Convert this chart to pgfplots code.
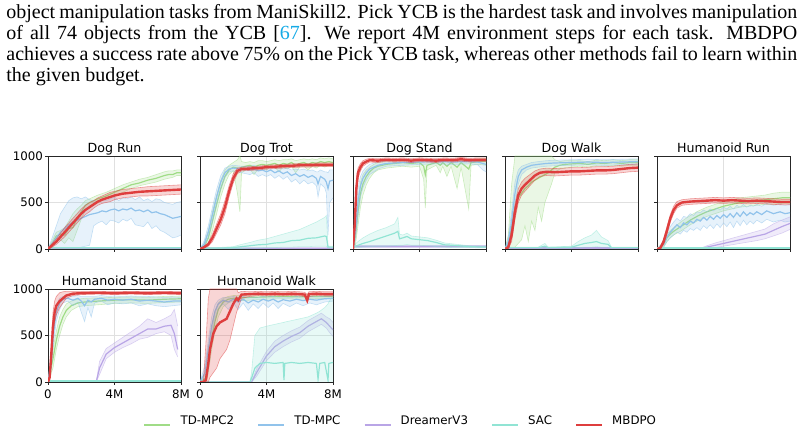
\documentclass[border=0pt]{standalone}
\usepackage{pgfplots}
\pgfplotsset{compat=1.18}
\usepackage{pgfplotstable}
\usepackage{fontspec}
\setmainfont{Liberation Serif}
\newfontfamily\djv{DejaVu Sans}

\definecolor{tdmpctwo}{RGB}{160,220,135}
\definecolor{tdmpc}{RGB}{145,195,235}
\definecolor{dreamer}{RGB}{185,165,230}
\definecolor{sac}{RGB}{145,228,212}
\definecolor{mbdpo}{RGB}{222,62,62}
\definecolor{cite}{RGB}{20,170,230}

% columns: env steps (M), mean, lower, upper
% ---------------- Dog Run ----------------
\pgfplotstableread{
x m l u
0 0 0 0
0.25 60 30 90
0.5 140 90 180
0.75 160 100 200
1.0 150 60 230
1.25 220 120 300
1.5 230 80 380
1.75 330 200 430
2.0 400 320 470
2.25 470 420 520
2.5 500 460 540
2.75 520 480 560
3.0 540 500 580
3.5 570 540 610
4.0 610 570 650
4.5 650 610 690
5.0 690 650 720
5.5 710 680 750
6.0 740 700 770
6.5 760 720 800
7.0 790 750 830
7.25 800 760 840
7.5 800 770 840
7.75 820 790 850
8.0 820 790 850
}\DRa
\pgfplotstableread{
x m l u
0 0 0 0
0.25 60 20 120
0.5 120 20 250
0.75 180 10 380
1.0 220 10 450
1.25 260 10 520
1.5 290 10 550
1.75 310 10 560
2.0 330 20 540
2.25 350 30 560
2.5 370 40 530
2.75 380 250 520
3.0 390 280 510
3.25 410 300 530
3.5 400 260 520
3.75 420 310 540
4.0 430 300 560
4.25 410 280 520
4.5 430 320 550
4.75 420 300 540
5.0 440 330 560
5.25 410 260 530
5.5 420 250 560
5.75 400 240 520
6.0 420 290 540
6.25 390 220 510
6.5 400 250 540
6.75 380 200 530
7.0 370 180 500
7.25 350 150 490
7.5 330 120 480
7.75 340 130 500
8.0 350 150 510
}\DRb
\pgfplotstableread{
x m l u
0 5 0 10
8 5 0 10
}\DRc
\pgfplotstableread{
x m l u
0 15 10 20
8 15 10 20
}\DRd
\pgfplotstableread{
x m l u
0 0 0 0
0.25 40 20 60
0.5 80 50 110
0.75 130 90 170
1.0 180 130 230
1.25 230 180 280
1.5 280 230 330
1.75 330 280 380
2.0 380 330 430
2.25 420 370 470
2.5 450 400 500
2.75 480 440 520
3.0 510 470 550
3.25 530 490 570
3.5 545 500 590
3.75 560 510 610
4.0 575 530 620
4.5 595 550 640
5.0 605 560 650
5.5 615 570 660
6.0 620 570 670
6.5 625 575 675
7.0 630 580 680
7.5 635 585 685
8.0 640 590 690
}\DRe
% ---------------- Dog Trot ----------------
\pgfplotstableread{
x m l u
0 0 0 0
0.25 30 10 60
0.5 120 60 200
0.75 300 200 400
1.0 480 380 580
1.25 650 560 740
1.5 780 700 850
1.75 850 800 900
2.0 880 840 930
2.25 870 600 960
2.4 860 400 1000
2.5 880 820 940
2.75 890 850 930
3.0 900 860 940
3.25 880 800 930
3.5 900 860 950
3.75 910 870 950
4.0 900 850 940
4.25 910 880 950
4.5 920 880 960
4.75 900 830 950
5.0 920 880 960
5.25 910 860 960
5.5 930 890 970
5.75 900 820 950
6.0 920 880 960
6.25 930 890 970
6.5 910 850 960
6.75 930 890 970
7.0 920 870 960
7.25 940 900 980
7.5 930 880 970
7.75 940 900 980
8.0 930 890 970
}\DTa
\pgfplotstableread{
x m l u
0 0 0 0
0.25 50 20 90
0.5 180 120 250
0.75 370 290 450
1.0 560 480 640
1.25 720 650 790
1.5 820 770 870
1.75 860 830 890
2.0 870 840 900
2.5 860 820 890
3.0 850 800 890
3.25 860 820 900
3.5 840 780 880
3.75 850 800 890
4.0 830 780 870
4.25 850 800 890
4.5 820 760 870
4.75 840 790 880
5.0 810 750 860
5.25 830 780 870
5.5 790 720 850
5.75 810 750 860
6.0 780 700 850
6.25 800 740 860
6.5 770 700 840
6.75 790 720 850
7.0 760 680 830
7.1 700 560 830
7.25 780 700 850
7.5 750 660 830
7.6 720 600 830
7.7 650 150 820
7.8 730 500 850
8.0 740 550 850
}\DTb
\pgfplotstableread{
x m l u
0 8 0 15
8 8 0 15
}\DTc
\pgfplotstableread{
x m l u
0 10 5 15
1.0 10 5 15
2.0 15 5 25
2.5 25 5 50
3.0 35 10 70
3.5 45 10 95
4.0 50 15 110
4.5 65 15 135
5.0 70 20 160
5.5 90 20 185
6.0 95 25 210
6.5 115 25 250
7.0 120 30 290
7.5 140 30 340
7.6 135 30 360
7.7 20 10 30
8.0 20 10 30
}\DTd
\pgfplotstableread{
x m l u
0 0 0 0
0.25 20 10 30
0.5 50 30 70
0.75 120 80 160
1.0 220 170 270
1.25 320 260 380
1.5 450 380 520
1.75 620 560 680
2.0 760 710 810
2.25 840 810 870
2.5 860 840 880
3.0 865 845 885
3.5 870 850 890
4.0 880 860 900
4.5 885 865 905
5.0 890 870 910
5.5 895 875 915
6.0 900 880 920
6.5 900 880 920
7.0 905 885 925
7.5 905 885 925
8.0 905 885 925
}\DTe
% ---------------- Dog Stand ----------------
\pgfplotstableread{
x m l u
0 0 0 0
0.15 150 50 250
0.3 400 250 550
0.45 600 450 720
0.6 700 580 800
0.8 780 690 850
1.0 830 760 880
1.25 870 820 910
1.5 890 850 930
2.0 910 870 950
2.5 920 880 960
3.0 930 890 960
3.5 920 880 960
4.0 930 890 960
4.25 890 750 960
4.35 800 440 960
4.45 900 850 960
5.0 930 900 960
5.25 900 820 960
5.4 930 890 960
5.65 890 780 960
5.9 930 890 960
6.26 880 650 960
6.5 930 880 960
6.96 860 430 960
7.1 930 900 960
7.6 940 910 970
8.0 940 900 970
}\DSa
\pgfplotstableread{
x m l u
0 0 0 0
0.15 200 100 300
0.3 500 350 650
0.45 680 560 780
0.6 760 660 840
0.8 820 740 880
1.0 860 800 910
1.5 900 860 940
2.0 920 890 950
3.0 930 900 960
4.0 935 910 960
5.0 940 915 965
6.0 935 910 960
7.0 940 915 965
7.5 935 905 965
7.8 920 850 960
8.0 910 830 960
}\DSb
\pgfplotstableread{
x m l u
0 30 20 40
8 30 20 40
}\DSc
\pgfplotstableread{
x m l u
0 20 10 30
0.3 40 15 80
0.6 60 20 120
1.0 80 25 160
1.5 110 30 200
2.0 140 30 230
2.5 170 35 270
2.7 190 40 340
2.8 110 40 160
3.0 120 40 150
3.25 135 50 170
3.5 110 40 140
4.0 100 40 130
4.5 90 35 120
5.0 70 25 95
5.5 45 20 65
6.0 40 15 55
7.0 25 15 35
8.0 20 12 30
}\DSd
\pgfplotstableread{
x m l u
0 0 0 0
0.1 250 150 350
0.2 650 550 750
0.3 820 760 870
0.45 880 840 920
0.6 920 890 950
0.8 940 915 965
1.0 955 935 975
1.5 950 930 970
2.0 960 940 980
2.5 955 935 975
3.0 960 940 980
3.5 950 930 970
4.0 960 940 980
4.5 955 935 975
5.0 950 930 970
5.5 960 940 980
6.0 955 935 975
6.5 965 945 985
7.0 955 935 975
7.5 960 940 980
8.0 960 940 980
}\DSe
% ---------------- Dog Walk ----------------
\pgfplotstableread{
x m l u
0 0 0 0
0.2 50 0 150
0.4 250 0 700
0.6 450 20 1000
0.8 550 60 1000
1.0 600 100 1000
1.2 650 250 1000
1.4 680 80 1000
1.6 720 300 1000
1.8 740 200 1000
2.0 760 450 1000
2.2 780 300 1000
2.4 800 500 1000
2.6 820 600 1000
2.8 850 700 1000
3.0 880 820 960
3.3 900 860 940
3.6 910 870 950
4.0 915 880 950
4.5 920 890 950
5.0 910 880 940
5.5 925 895 955
6.0 920 890 950
6.5 930 900 960
7.0 920 890 950
7.5 930 900 960
8.0 930 900 960
}\DWa
\pgfplotstableread{
x m l u
0 0 0 0
0.2 80 30 130
0.4 300 200 400
0.6 600 480 720
0.8 780 700 850
1.0 850 800 890
1.3 880 850 910
1.6 900 870 930
2.0 910 880 940
2.5 920 890 950
3.0 925 895 955
4.0 930 900 960
5.0 935 905 965
6.0 930 900 960
7.0 935 905 965
8.0 940 910 970
}\DWb
\pgfplotstableread{
x m l u
0 10 5 15
8 10 5 15
}\DWc
\pgfplotstableread{
x m l u
0 15 10 20
2.0 15 10 20
2.4 30 10 60
2.6 15 10 20
4.0 20 10 30
4.4 40 15 80
4.8 60 20 120
5.2 70 20 150
5.5 80 25 200
5.8 60 20 130
6.2 50 20 90
6.4 15 10 20
8.0 15 10 20
}\DWd
\pgfplotstableread{
x m l u
0 0 0 0
0.2 20 5 40
0.4 150 80 220
0.6 400 320 480
0.8 580 500 650
1.0 650 580 720
1.2 690 620 760
1.5 740 680 800
1.8 790 740 840
2.1 820 780 860
2.5 830 790 870
3.0 825 785 865
3.5 830 790 870
4.0 835 795 875
4.5 835 795 875
5.0 840 800 880
5.5 845 805 885
6.0 845 805 885
6.5 850 810 890
7.0 860 820 900
7.5 870 830 910
8.0 875 835 915
}\DWe
% ---------------- Humanoid Run ----------------
\pgfplotstableread{
x m l u
0 0 0 0
0.4 50 20 80
0.6 120 80 160
0.8 160 120 200
1.0 190 150 230
1.5 250 200 300
2.0 310 260 360
2.5 360 310 410
3.0 400 350 450
3.5 430 380 480
4.0 460 410 510
4.5 480 430 530
5.0 500 450 550
5.5 510 460 560
6.0 520 470 570
6.5 530 480 580
7.0 540 480 600
7.5 550 490 610
8.0 550 490 610
}\HRa
\pgfplotstableread{
x m l u
0 0 0 0
0.4 50 20 80
0.6 130 80 180
0.8 180 120 240
1.0 220 150 290
1.2 260 180 330
1.4 230 160 300
1.6 280 200 350
1.8 260 180 340
2.0 300 220 380
2.2 280 200 360
2.4 320 230 400
2.6 300 200 390
2.8 340 250 420
3.0 310 220 400
3.2 350 260 430
3.4 320 220 410
3.6 360 270 440
3.8 330 230 420
4.0 370 280 450
4.2 340 240 430
4.4 380 290 460
4.6 340 230 430
4.8 390 300 470
5.0 350 250 450
5.2 400 310 480
5.4 360 260 450
5.6 390 300 470
5.8 370 270 460
6.0 400 310 480
6.3 370 280 460
6.6 410 320 490
7.0 380 290 470
7.4 400 310 480
7.7 380 290 470
8.0 390 300 480
}\HRb
\pgfplotstableread{
x m l u
0 0 0 0
2.5 0 0 0
3.0 20 5 35
3.5 40 15 65
4.0 60 30 90
4.5 80 45 115
5.0 100 60 140
5.5 120 75 165
6.0 140 90 190
6.5 160 110 215
7.0 200 140 270
7.5 240 170 310
8.0 275 210 345
}\HRc
\pgfplotstableread{
x m l u
0 10 5 15
8 10 5 15
}\HRd
\pgfplotstableread{
x m l u
0 0 0 0
0.2 10 0 20
0.4 80 50 110
0.6 200 160 240
0.8 330 290 370
1.0 420 380 460
1.2 470 440 510
1.5 500 470 530
2.0 510 480 540
2.5 515 485 545
3.0 520 490 550
3.5 525 495 555
4.0 520 490 550
4.5 525 495 555
5.0 520 490 550
5.5 515 485 545
6.0 520 490 550
6.5 515 485 545
7.0 510 480 540
7.5 505 475 535
8.0 505 475 535
}\HRe
% ---------------- Humanoid Stand ----------------
\pgfplotstableread{
x m l u
0 0 0 0
0.3 250 150 350
0.5 450 350 550
0.7 600 500 700
0.9 700 620 780
1.1 770 700 840
1.4 820 770 870
1.8 850 810 890
2.2 860 820 900
3.0 870 830 905
4.0 880 845 910
5.0 885 850 915
6.0 880 845 910
7.0 890 855 920
8.0 895 860 925
}\HSa
\pgfplotstableread{
x m l u
0 0 0 0
0.2 250 150 350
0.35 550 450 650
0.5 750 650 830
0.7 850 780 900
0.9 890 850 920
1.2 900 870 930
1.5 880 820 920
1.8 900 860 930
2.0 870 750 920
2.2 820 650 920
2.4 880 800 920
2.6 860 700 920
2.8 890 850 920
3.2 900 870 930
3.6 880 830 920
4.0 890 850 925
4.5 880 840 920
5.0 890 850 925
5.5 870 820 920
6.0 880 840 920
6.5 870 820 915
7.0 860 810 910
7.5 870 820 915
8.0 870 830 910
}\HSb
\pgfplotstableread{
x m l u
0 0 0 0
2.9 0 0 0
3.1 150 80 220
3.5 300 250 360
4.0 370 320 420
4.5 420 370 480
5.0 470 410 540
5.5 520 460 600
6.0 570 480 680
6.5 570 520 640
7.0 600 540 680
7.4 610 500 720
7.6 520 350 780
7.8 350 270 600
}\HSc
\pgfplotstableread{
x m l u
0 10 5 15
8 10 5 15
}\HSd
\pgfplotstableread{
x m l u
0 0 0 0
0.1 50 20 80
0.2 300 200 400
0.3 600 500 750
0.4 750 650 870
0.5 820 720 920
0.7 870 800 960
0.9 900 850 970
1.1 930 900 975
1.5 950 930 975
2.0 955 940 975
3.0 960 945 975
4.0 955 940 970
5.0 960 945 975
6.0 955 940 970
7.0 960 945 975
8.0 955 940 970
}\HSe
% ---------------- Humanoid Walk ----------------
\pgfplotstableread{
x m l u
0 0 0 0
0.4 50 10 100
0.5 200 100 300
0.7 450 350 550
0.9 650 550 740
1.1 780 700 850
1.4 860 810 900
1.7 890 850 920
2.0 900 870 930
3.0 910 880 935
4.0 915 890 940
5.0 920 895 945
6.0 915 890 940
7.0 920 895 945
8.0 920 895 945
}\HWa
\pgfplotstableread{
x m l u
0 0 0 0
0.3 100 40 180
0.5 350 250 450
0.7 600 500 700
0.9 760 680 830
1.1 840 790 880
1.4 880 840 910
1.7 860 780 910
2.0 890 850 920
2.3 860 780 910
2.6 890 850 920
2.9 850 770 910
3.2 880 840 915
3.5 860 790 910
3.8 890 850 920
4.1 870 800 915
4.4 890 850 920
4.7 860 790 910
5.0 885 845 915
5.4 870 810 910
5.8 890 850 920
6.2 875 820 915
6.6 890 850 920
7.0 880 830 915
7.5 895 860 925
8.0 900 870 925
}\HWb
\pgfplotstableread{
x m l u
0 0 0 0
3.1 0 0 0
3.4 100 60 140
4.0 280 230 330
4.5 380 320 440
5.0 440 380 500
5.5 490 430 550
6.0 530 470 590
6.5 600 540 660
7.0 650 590 710
7.3 680 620 740
7.6 640 580 700
7.8 600 530 680
8.0 560 490 640
}\HWc
\pgfplotstableread{
x m l u
0 0 0 0
3.0 0 0 0
3.1 40 0 100
3.3 150 0 500
3.6 200 0 580
4.0 210 0 600
4.5 200 0 620
5.0 210 0 640
5.05 20 0 640
5.1 200 0 645
5.5 210 0 660
6.0 200 0 680
6.5 210 0 700
7.0 200 0 740
7.1 30 0 750
7.2 200 0 760
7.5 210 0 800
7.7 20 0 840
7.75 200 0 860
8.0 210 0 930
}\HWd
\pgfplotstableread{
x m l u
0 0 0 0
0.2 0 0 0
0.35 20 0 400
0.5 200 0 900
0.6 350 50 1000
0.8 520 100 1000
1.0 600 150 1000
1.2 640 250 1000
1.4 660 300 1000
1.6 680 350 1000
1.8 760 450 1000
2.0 840 600 1000
2.2 900 750 1000
2.3 880 800 960
2.5 940 900 975
3.0 945 920 970
3.5 950 930 975
4.0 945 925 970
4.5 950 930 975
5.0 945 925 970
5.5 950 930 975
6.0 945 925 970
6.3 940 920 965
6.45 880 850 940
6.55 945 920 970
7.0 950 930 975
7.5 945 925 970
8.0 945 925 970
}\HWe

% band outline of a table: upper edge forward, lower edge backward (column b)
\newcommand{\mkbandA}[2]{%
  \pgfplotstablesort[sort key=x, sort cmp=float <]{#2}{#1}%
  \pgfplotstablecreatecol[create col/copy=u]{b}{#2}%
  \pgfplotstablesort[sort key=x, sort cmp=float >]{\bandrev}{#1}%
  \pgfplotstablecreatecol[create col/copy=l]{b}{\bandrev}%
  \pgfplotstablevertcat{#2}{\bandrev}%
}
\newcommand{\mkband}[1]{\expandafter\mkbandA\csname #1\expandafter\endcsname\csname #1P\endcsname}
\newcommand{\mkbands}[1]{\mkband{#1a}\mkband{#1b}\mkband{#1c}\mkband{#1d}\mkband{#1e}}
\mkbands{DR}\mkbands{DT}\mkbands{DS}\mkbands{DW}\mkbands{HR}\mkbands{HS}\mkbands{HW}

% one method: shaded band, band edges, mean curve
\newcommand{\seriesA}[4]{%
  \addplot[forget plot, fill=#3, fill opacity=0.22, draw=none] table[x=x,y=b]{#2};
  \addplot[forget plot, draw=#3, draw opacity=0.5, line width=0.3pt] table[x=x,y=u]{#1};
  \addplot[forget plot, draw=#3, draw opacity=0.5, line width=0.3pt] table[x=x,y=l]{#1};
  \addplot[forget plot, draw=#3, line width=#4] table[x=x,y=m]{#1};
}
\newcommand{\series}[3]{\expandafter\seriesA\csname #1\expandafter\endcsname\csname #1P\endcsname{#2}{#3}}
\newcommand{\allseries}[1]{%
  \series{#1a}{tdmpctwo}{0.6pt}
  \series{#1b}{tdmpc}{0.6pt}
  \series{#1c}{dreamer}{0.6pt}
  \series{#1d}{sac}{0.6pt}
  \series{#1e}{mbdpo}{1.2pt}
}

\pgfplotsset{
  panel/.style={
    scale only axis, width=66.5pt, height=46.5pt,
    anchor=south west,
    xmin=0, xmax=8, ymin=0, ymax=1000,
    xtick={0,4,8}, ytick={0,500,1000},
    xticklabels={}, yticklabels={},
    tick align=outside, tick pos=left,
    major tick length=1.5pt,
    axis line style={black!85, line width=0.4pt},
    tick style={black!85, line width=0.4pt},
    grid=major, major grid style={black!12, line width=0.4pt},
    /pgf/number format/assume math mode=true,
    ticklabel style={font=\djv\fontsize{5.9}{7}\selectfont, inner sep=0.8pt},
    xticklabel style={yshift=-1.5pt},
    title style={font=\djv\fontsize{6.3}{7.5}\selectfont, at={(0.5,1)}, anchor=base, yshift=-4.3pt, inner sep=0pt},
  },
  ylab/.style={yticklabels={0,500,1000}},
  xlab/.style={xticklabels={0,4M,8M}},
}

\begin{document}
\begin{tikzpicture}
\useasboundingbox (0pt,0pt) rectangle (402pt,214.5pt);

\begin{scope}[every node/.style={anchor=base west, inner sep=0pt, font=\fontsize{10}{12}\selectfont}]
\node at (3pt,205pt) {\makebox[395.5pt][s]{object manipulation tasks from ManiSkill2. Pick YCB is the hardest task and involves manipulation}};
\node at (3pt,194.65pt) {\makebox[395.5pt][s]{of all 74 objects from the YCB [\textcolor{cite}{67}]. We report 4M environment steps for each task. MBDPO}};
\node at (3pt,184.3pt) {\makebox[395.5pt][s]{achieves a success rate above 75\% on the Pick YCB task, whereas other methods fail to learn within}};
\node at (3pt,173.95pt) {the given budget.};
\end{scope}

\begin{axis}[panel, ylab, at={(24pt,90pt)}, title={Dog Run}]
\allseries{DR}
\end{axis}
\begin{axis}[panel, at={(100pt,90pt)}, title={Dog Trot}]
\allseries{DT}
\end{axis}
\begin{axis}[panel, at={(176.5pt,90pt)}, title={Dog Stand}]
\allseries{DS}
\end{axis}
\begin{axis}[panel, at={(252.5pt,90pt)}, title={Dog Walk}]
\allseries{DW}
\end{axis}
\begin{axis}[panel, at={(328.5pt,90pt)}, title={Humanoid Run}]
\allseries{HR}
\end{axis}
\begin{axis}[panel, ylab, xlab, at={(24pt,23.5pt)}, title={Humanoid Stand}]
\allseries{HS}
\end{axis}
\begin{axis}[panel, xlab, at={(100pt,23.5pt)}, title={Humanoid Walk}]
\allseries{HW}
\end{axis}

% legend
\begin{axis}[hide axis, scale only axis, width=402pt, height=214.5pt,
  at={(0pt,0pt)}, anchor=south west, xmin=0, xmax=1, ymin=0, ymax=1,
  legend columns=5,
  legend image code/.code={\draw[#1] (0pt,0pt) -- (13pt,0pt);},
  legend style={at={(143/804,7/429)}, anchor=west, draw=none, fill=none,
    inner sep=0pt, font=\djv\fontsize{5.9}{7}\selectfont,
    nodes={inner sep=0pt, anchor=base west},
    /tikz/every odd column/.append style={column sep=4.5pt},
    /tikz/every even column/.append style={column sep=11.5pt}}]
\addlegendimage{tdmpctwo, line width=1.1pt}\addlegendentry{TD-MPC2}
\addlegendimage{tdmpc, line width=1.1pt}\addlegendentry{TD-MPC}
\addlegendimage{dreamer, line width=1.1pt}\addlegendentry{DreamerV3}
\addlegendimage{sac, line width=1.1pt}\addlegendentry{SAC}
\addlegendimage{mbdpo, line width=1.1pt}\addlegendentry{MBDPO}
\end{axis}
\end{tikzpicture}
\end{document}
